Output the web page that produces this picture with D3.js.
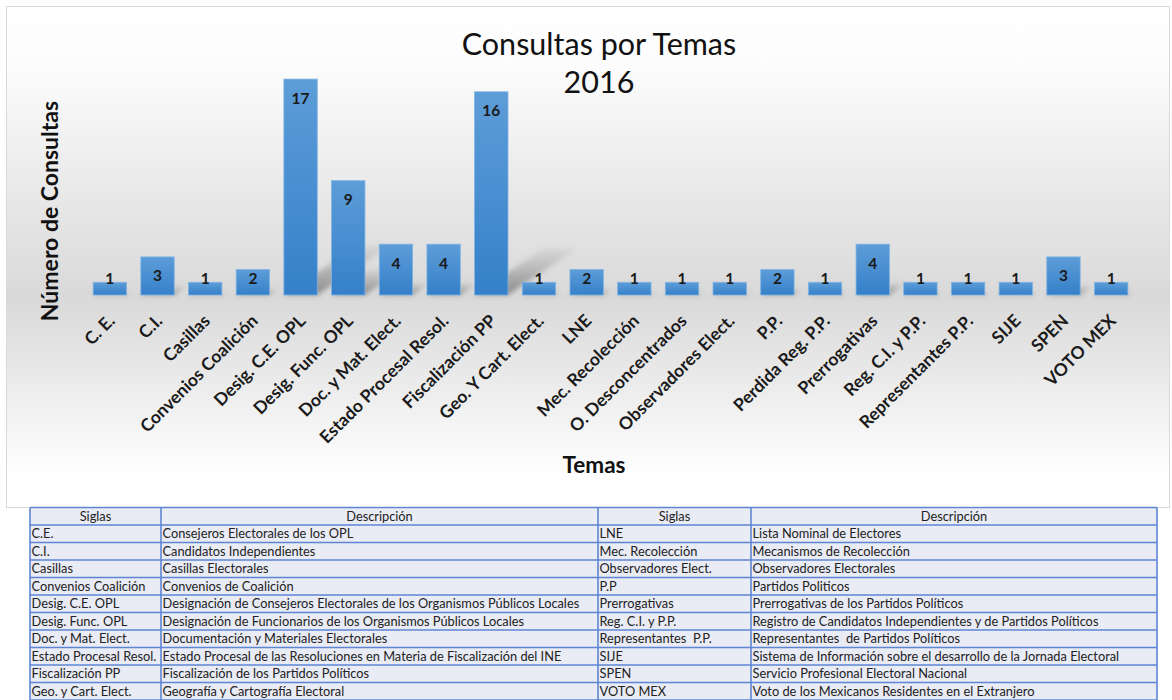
<!DOCTYPE html>
<html>
<head>
<meta charset="utf-8">
<script src="https://cdnjs.cloudflare.com/ajax/libs/d3/7.8.5/d3.min.js"></script>
<style>
    body { margin: 0; background: #fff; }
    svg { display: block; }
</style>
</head>
<body>
<svg width="1172" height="700"></svg>
<script>
// datos de la grafica
var temas = ["C. E.", "C.I.", "Casillas", "Convenios Coalición", "Desig. C.E. OPL", "Desig. Func. OPL",
    "Doc. y Mat. Elect.", "Estado Procesal Resol.", "Fiscalización PP", "Geo. Y Cart. Elect.", "LNE",
    "Mec. Recolección", "O. Desconcentrados", "Observadores Elect.", "P.P.", "Perdida Reg. P.P.",
    "Prerrogativas", "Reg. C.I. y P.P.", "Representantes P.P.", "SIJE", "SPEN", "VOTO MEX"];
var consultas = [1, 3, 1, 2, 17, 9, 4, 4, 16, 1, 2, 1, 1, 1, 2, 1, 4, 1, 1, 1, 3, 1];

var titulo = ["Consultas por Temas", "2016"];
var tituloEjeY = "Número de Consultas";
var tituloEjeX = "Temas";

// datos de la tabla de siglas
var encabezados = ["Siglas", "Descripción", "Siglas", "Descripción"];
var siglasIzq = ["C.E.", "C.I.", "Casillas", "Convenios Coalición", "Desig. C.E. OPL", "Desig. Func. OPL",
    "Doc. y Mat. Elect.", "Estado Procesal Resol.", "Fiscalización PP", "Geo. y Cart. Elect."];
var descIzq = ["Consejeros Electorales de los OPL", "Candidatos Independientes", "Casillas Electorales",
    "Convenios de Coalición", "Designación de Consejeros Electorales de los Organismos Públicos Locales",
    "Designación de Funcionarios de los Organismos Públicos Locales", "Documentación y Materiales Electorales",
    "Estado Procesal de las Resoluciones en Materia de Fiscalización del INE",
    "Fiscalización de los Partidos Políticos", "Geografía y Cartografía Electoral"];
var siglasDer = ["LNE", "Mec. Recolección", "Observadores Elect.", "P.P", "Prerrogativas", "Reg. C.I. y P.P.",
    "Representantes  P.P.", "SIJE", "SPEN", "VOTO MEX"];
var descDer = ["Lista Nominal de Electores", "Mecanismos de Recolección", "Observadores Electorales",
    "Partidos Politicos", "Prerrogativas de los Partidos Políticos",
    "Registro de Candidatos Independientes y de Partidos Políticos", "Representantes  de Partidos Políticos",
    "Sistema de Información sobre el desarrollo de la Jornada Electoral",
    "Servicio Profesional Electoral Nacional", "Voto de los Mexicanos Residentes en el Extranjero"];

var svg = d3.select("svg");
var fuente = "Lato, 'Open Sans', sans-serif";
var base = 295;

//////////// DEFS ////////////
var defs = svg.append("defs");

var fondo = defs.append("linearGradient").attr("id", "fondo")
    .attr("x1", 0).attr("y1", 0).attr("x2", 0).attr("y2", 1);
fondo.append("stop").attr("offset", "0%").attr("stop-color", "#ffffff");
fondo.append("stop").attr("offset", "12%").attr("stop-color", "#fcfcfc");
fondo.append("stop").attr("offset", "58%").attr("stop-color", "#d9d9d9");
fondo.append("stop").attr("offset", "94%").attr("stop-color", "#ffffff");

var azul = defs.append("linearGradient").attr("id", "azul")
    .attr("x1", 0).attr("y1", 0).attr("x2", 0).attr("y2", 1);
azul.append("stop").attr("offset", "0%").attr("stop-color", "#5d9dd8");
azul.append("stop").attr("offset", "100%").attr("stop-color", "#3580c9");

var sombra = defs.append("linearGradient").attr("id", "sombra")
    .attr("x1", 0).attr("y1", 1).attr("x2", 0).attr("y2", 0);
sombra.append("stop").attr("offset", "0%").attr("stop-color", "#555").attr("stop-opacity", 0.6);
sombra.append("stop").attr("offset", "100%").attr("stop-color", "#777").attr("stop-opacity", 0.08);

defs.append("filter").attr("id", "difuso")
    .attr("x", "-20%").attr("y", "-20%").attr("width", "140%").attr("height", "140%")
    .append("feGaussianBlur").attr("stdDeviation", 2.5);

// caja del grafico
svg.append("rect")
    .attr("x", 6.5).attr("y", 6.5).attr("width", 1163).attr("height", 501)
    .attr("fill", "url(#fondo)")
    .attr("stroke", "#d9d9d9");

//////////// ESCALAS ////////////
var x = d3.scaleBand()
    .domain(temas)
    .range([86, 1135])
    .paddingInner(0.3)
    .paddingOuter(0.15);

var y = d3.scaleLinear()
    .domain([0, 18])
    .range([base, base - 18 * 12.7]);

var datos = temas.map(function (t, i) { return { tema: t, valor: consultas[i] }; });

// sombras en perspectiva
svg.append("g")
    .attr("filter", "url(#difuso)")
    .selectAll("path")
    .data(datos)
    .enter().append("path")
    .attr("fill", "url(#sombra)")
    .attr("d", function (d) {
        var h = base - y(d.valor);
        var x0 = x(d.tema), x1 = x0 + x.bandwidth();
        var dx = h * 0.34, dy = h * 0.23;
        return "M" + x0 + "," + base + "L" + x1 + "," + base +
            "L" + (x1 + dx) + "," + (base - dy) + "L" + (x0 + dx) + "," + (base - dy) + "Z";
    });

// barras
svg.append("g")
    .selectAll("rect")
    .data(datos)
    .enter().append("rect")
    .attr("x", function (d) { return x(d.tema); })
    .attr("y", function (d) { return y(d.valor); })
    .attr("width", x.bandwidth())
    .attr("height", function (d) { return base - y(d.valor); })
    .attr("fill", "url(#azul)")
    .attr("stroke", "#7fb2e3")
    .attr("stroke-width", 0.8);

// etiquetas de valores
svg.append("g")
    .selectAll("text")
    .data(datos)
    .enter().append("text")
    .attr("x", function (d) { return x(d.tema) + x.bandwidth() / 2; })
    .attr("y", function (d) { return Math.min(y(d.valor) + 19, 278); })
    .attr("dy", "0.36em")
    .attr("text-anchor", "middle")
    .attr("font-family", fuente)
    .attr("font-weight", "bold")
    .attr("font-size", 15.5)
    .attr("fill", "#1a1a1a")
    .text(function (d) { return d.valor; });

// eje x (solo etiquetas)
var ejeX = svg.append("g")
    .attr("transform", "translate(0," + base + ")")
    .call(d3.axisBottom(x).tickSize(0).tickPadding(0));
ejeX.select(".domain").remove();
ejeX.selectAll("text")
    .attr("font-family", fuente)
    .attr("font-weight", "bold")
    .attr("font-size", 17.5)
    .attr("fill", "#1a1a1a")
    .attr("text-anchor", "end")
    .attr("dy", 0)
    .attr("y", 0)
    .attr("transform", "translate(6,27) rotate(-45)");

// titulos
svg.append("text")
    .attr("x", 599).attr("y", 55)
    .attr("text-anchor", "middle")
    .attr("font-family", fuente)
    .attr("font-size", 30.5)
    .attr("fill", "#111")
    .text(titulo[0]);
svg.append("text")
    .attr("x", 599).attr("y", 93)
    .attr("text-anchor", "middle")
    .attr("font-family", fuente)
    .attr("font-size", 30.5)
    .attr("fill", "#111")
    .text(titulo[1]);

svg.append("text")
    .attr("transform", "translate(58,211) rotate(-90)")
    .attr("text-anchor", "middle")
    .attr("font-family", fuente)
    .attr("font-weight", "bold")
    .attr("font-size", 23)
    .attr("fill", "#111")
    .text(tituloEjeY);

svg.append("text")
    .attr("x", 594).attr("y", 473)
    .attr("text-anchor", "middle")
    .attr("font-family", fuente)
    .attr("font-weight", "bold")
    .attr("font-size", 22.5)
    .attr("fill", "#111")
    .text(tituloEjeX);

//////////// TABLA ////////////
var cols = [30, 161, 598, 751, 1157];
var altoFila = 17.5;
var top0 = 507.5;

var filas = [encabezados].concat(siglasIzq.map(function (s, i) {
    return [s, descIzq[i], siglasDer[i], descDer[i]];
}));

var tabla = svg.append("g");
tabla.append("rect")
    .attr("x", cols[0]).attr("y", top0)
    .attr("width", cols[4] - cols[0]).attr("height", altoFila * filas.length)
    .attr("fill", "#e9ebf5");

filas.forEach(function (fila, r) {
    fila.forEach(function (celda, c) {
        tabla.append("text")
            .attr("x", r === 0 ? (cols[c] + cols[c + 1]) / 2 : cols[c] + 1.5)
            .attr("y", top0 + altoFila * r + altoFila / 2)
            .attr("dy", "0.35em")
            .attr("text-anchor", r === 0 ? "middle" : "start")
            .attr("font-family", fuente)
            .attr("font-size", 12.8)
            .attr("fill", "#222")
            .style("white-space", "pre")
            .text(celda);
    });
});

// lineas de la tabla
tabla.selectAll("line.h")
    .data(d3.range(filas.length + 1))
    .enter().append("line")
    .attr("x1", cols[0]).attr("x2", cols[4])
    .attr("y1", function (d) { return top0 + d * altoFila; })
    .attr("y2", function (d) { return top0 + d * altoFila; })
    .attr("stroke", "#5f86d4").attr("stroke-width", 1.6);
tabla.selectAll("line.v")
    .data(cols)
    .enter().append("line")
    .attr("y1", top0).attr("y2", top0 + filas.length * altoFila)
    .attr("x1", function (d) { return d; })
    .attr("x2", function (d) { return d; })
    .attr("stroke", "#5f86d4").attr("stroke-width", 1.6);
</script>
</body>
</html>
